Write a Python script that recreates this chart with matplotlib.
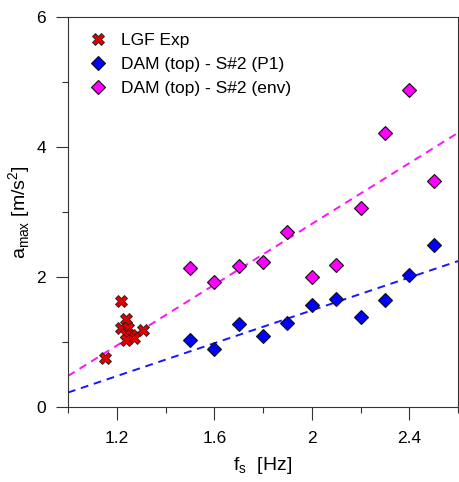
import numpy as np
import matplotlib
matplotlib.use("Agg")
import matplotlib.pyplot as plt
from matplotlib.ticker import MultipleLocator, FormatStrFormatter

plt.rcParams['font.family'] = ['Liberation Sans', 'DejaVu Sans']
plt.rcParams['mathtext.fontset'] = 'custom'
plt.rcParams['mathtext.rm'] = 'Liberation Sans'

# LGF experimental points
lgf_fs = [1.217, 1.24, 1.217, 1.308, 1.247, 1.24, 1.26, 1.27, 1.236, 1.151]
lgf_a = [1.63, 1.35, 1.22, 1.19, 1.21, 1.13, 1.11, 1.06, 1.03, 0.75]

# DAM (top) - S#2
dam_fs = [1.5, 1.6, 1.7, 1.8, 1.9, 2.0, 2.1, 2.2, 2.3, 2.4, 2.5]
dam_p1 = [1.03, 0.89, 1.27, 1.10, 1.29, 1.57, 1.66, 1.38, 1.64, 2.03, 2.49]
dam_env = [2.14, 1.93, 2.17, 2.23, 2.70, 2.00, 2.18, 3.06, 4.21, 4.87, 3.48]

fig = plt.figure(figsize=(4.6, 4.82), dpi=100)
ax = fig.add_axes([68 / 460, 75 / 482, 390 / 460, 390 / 482])

# linear fits over the whole x range
xfit = np.array([1.0, 2.6])
p1_fit = np.polyfit(dam_fs, dam_p1, 1)
env_fit = np.polyfit(dam_fs, dam_env, 1)
ax.plot(xfit, np.polyval(p1_fit, xfit), color='#1515ff', ls=(0, (4, 3)), lw=1.4, zorder=1)
ax.plot(xfit, np.polyval(env_fit, xfit), color='#ff10ff', ls=(0, (4, 3)), lw=1.4, zorder=1)

ax.plot(lgf_fs, lgf_a, ls='none', marker='X', ms=8.5, mfc='#e00000', mec='#222222',
        mew=0.6, label='LGF Exp', zorder=3)
ax.plot(dam_fs, dam_p1, ls='none', marker='D', ms=7, mfc='#0000ff', mec='#111111',
        mew=0.8, label='DAM (top) - S#2 (P1)', zorder=3)
ax.plot(dam_fs, dam_env, ls='none', marker='D', ms=7, mfc='#ff00ff', mec='#111111',
        mew=0.8, label='DAM (top) - S#2 (env)', zorder=3)

ax.set_xlim(1.0, 2.6)
ax.set_ylim(0, 6)
ax.xaxis.set_minor_locator(MultipleLocator(0.2))
ax.set_xticks([1.2, 1.6, 2.0, 2.4])
ax.set_xticklabels(['1.2', '1.6', '2', '2.4'])
ax.yaxis.set_major_locator(MultipleLocator(2))
ax.yaxis.set_minor_locator(MultipleLocator(1))
ax.yaxis.set_major_formatter(FormatStrFormatter('%g'))
ax.tick_params(which='major', direction='out', length=9, width=0.8, labelsize=12.5,
               color='#333333', top=False, right=False)
ax.tick_params(axis='x', which='major', pad=8)
ax.tick_params(axis='y', which='major', pad=7)
ax.tick_params(which='minor', direction='out', length=4.5, width=0.8,
               color='#333333', top=False, right=False)
for s in ax.spines.values():
    s.set_linewidth(0.8)
    s.set_color('#333333')

ax.set_xlabel(r'f$_{\mathregular{s}}$  [Hz]', fontsize=14, labelpad=7)
ax.set_ylabel(r'a$_{\mathregular{max}}$ [m/s$^{\mathregular{2}}$]', fontsize=14, labelpad=2)

ax.legend(loc='upper left', frameon=False, fontsize=12.5, handletextpad=0.7,
          labelspacing=0.5, borderaxespad=0.3, bbox_to_anchor=(0.02, 0.99),
          handlelength=1.2)

fig.savefig('out.png', dpi=100)
